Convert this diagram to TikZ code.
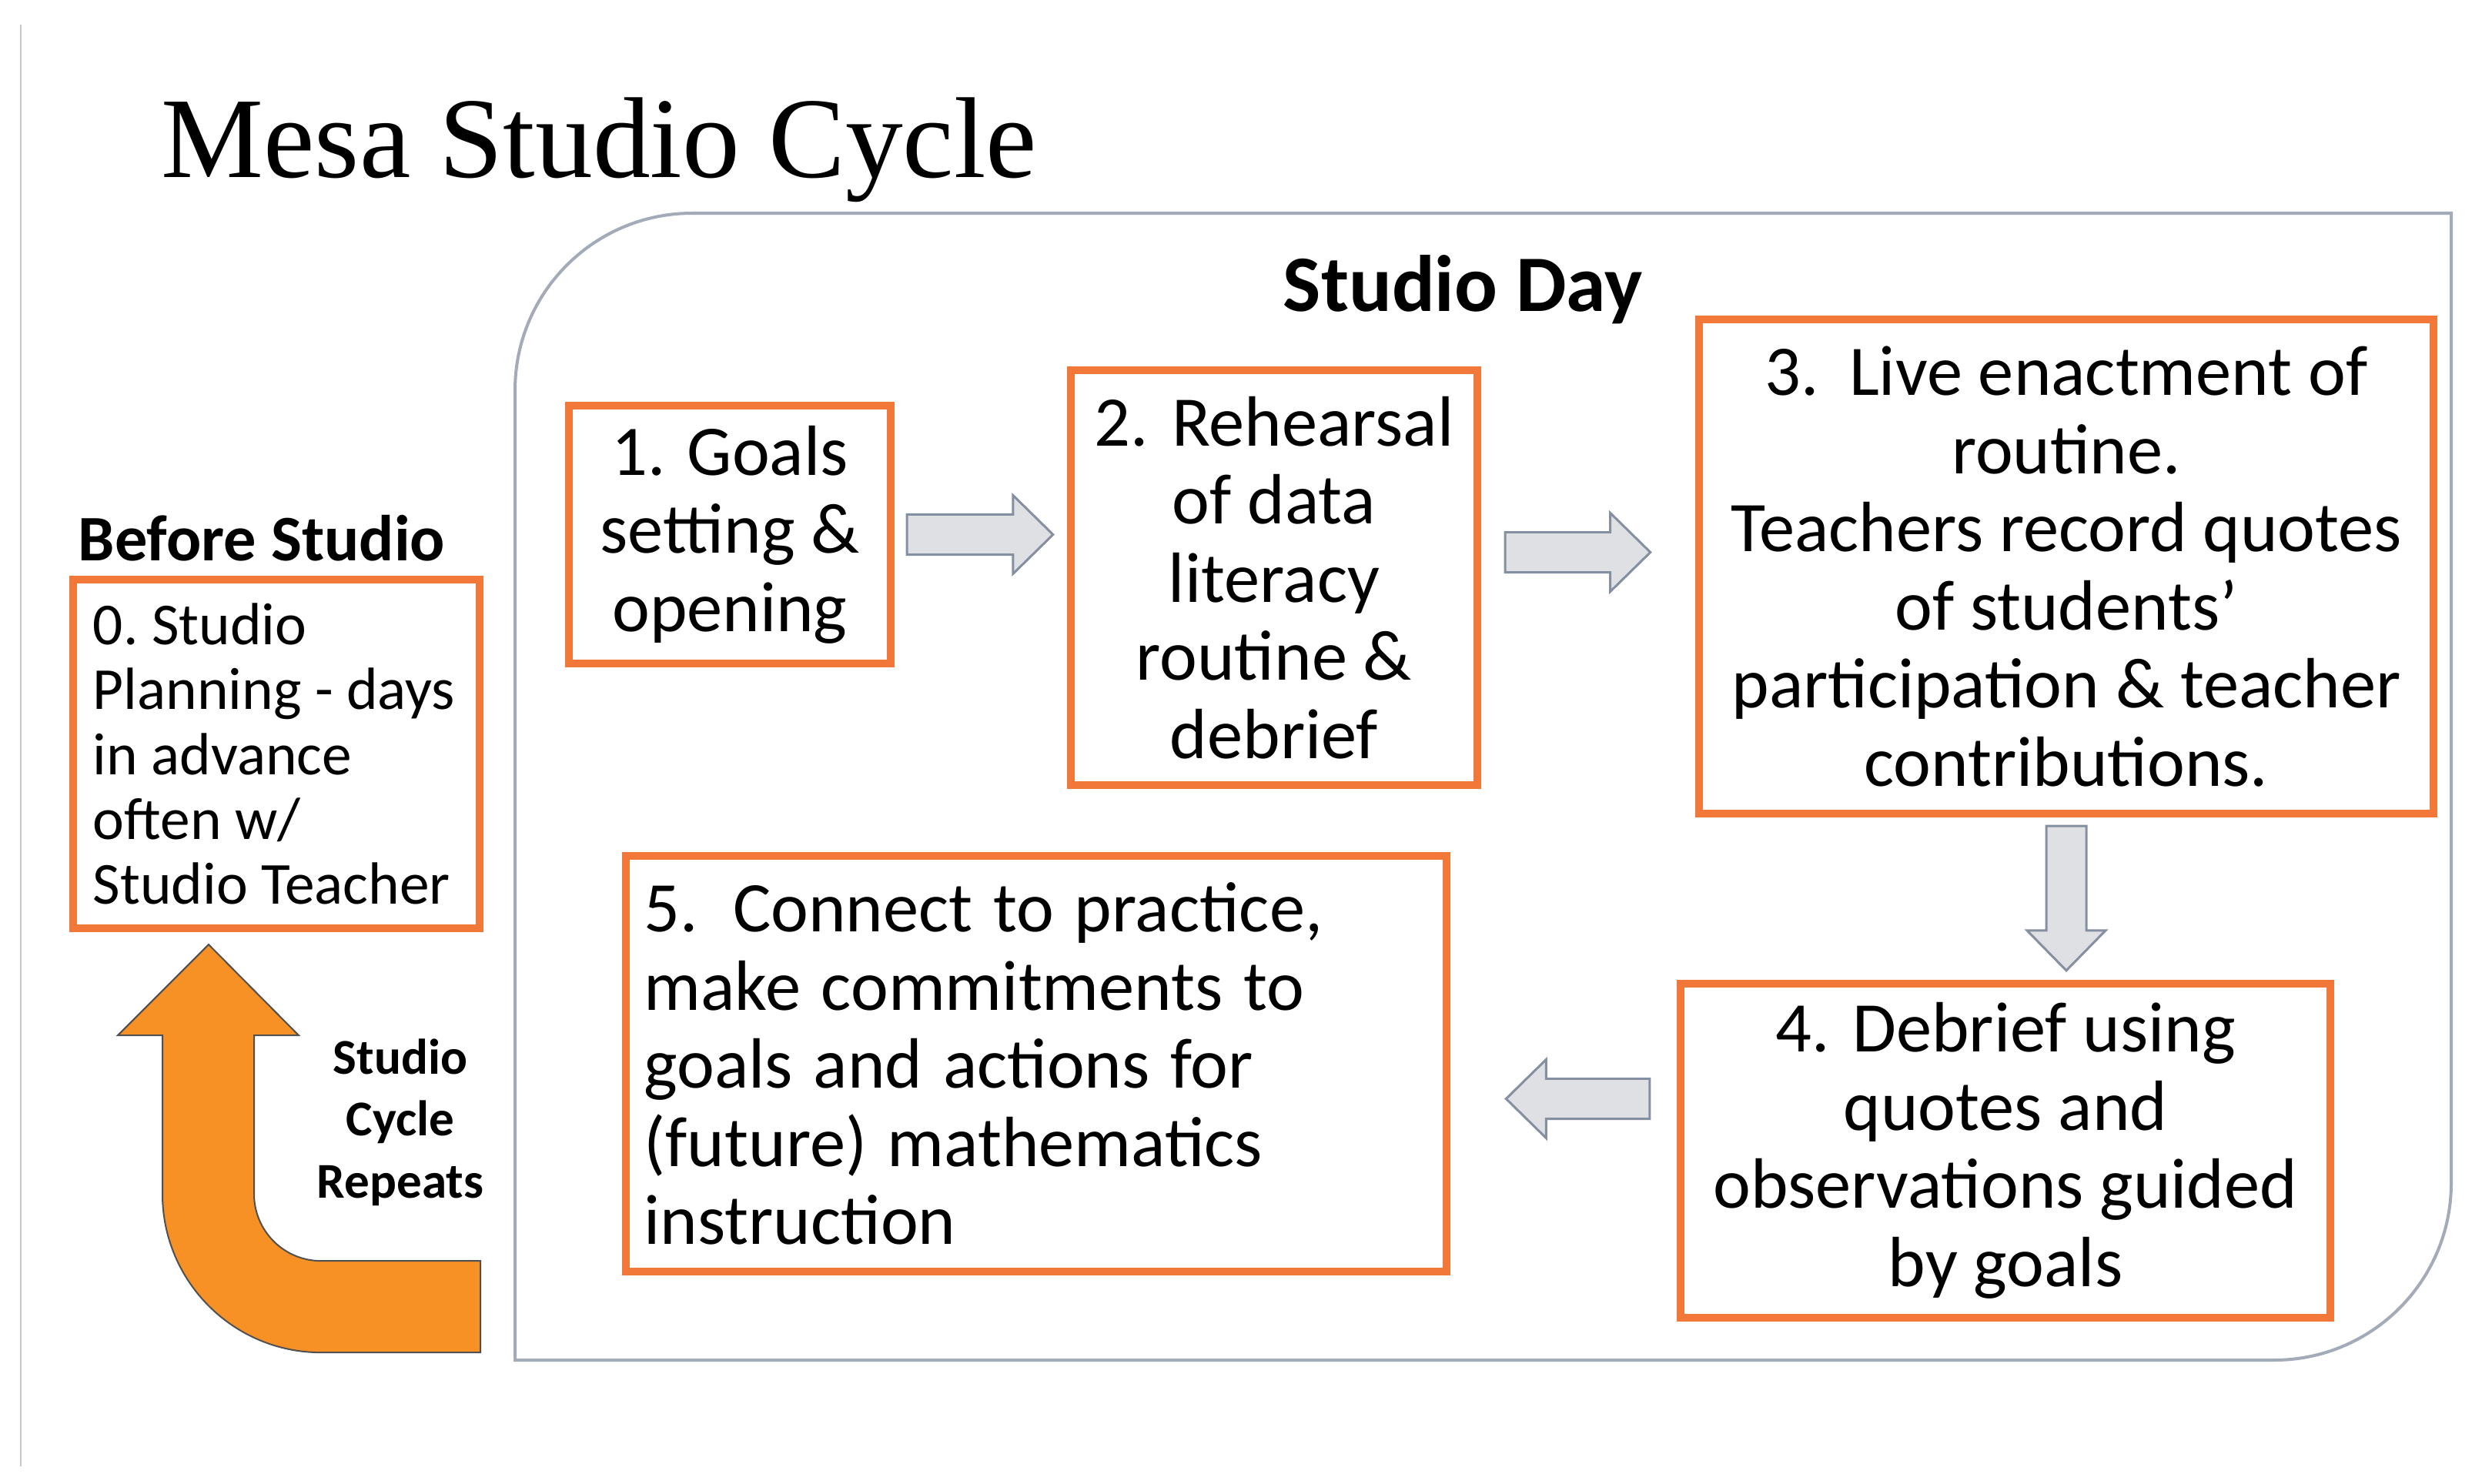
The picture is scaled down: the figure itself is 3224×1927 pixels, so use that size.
\documentclass[tikz,border=0pt]{standalone}
\usepackage{fontspec}
\setmainfont{Carlito}
\setsansfont{Carlito}
\newfontfamily\titlefont{Liberation Serif}
\usetikzlibrary{calc}
\definecolor{boxorange}{RGB}{241,120,57}
\definecolor{arrowfill}{RGB}{223,224,227}
\definecolor{arrowline}{RGB}{132,143,162}
\definecolor{framegray}{RGB}{163,171,184}
\definecolor{repeatorange}{RGB}{247,145,38}
\definecolor{repeatline}{RGB}{80,80,80}
\definecolor{leftgray}{RGB}{200,200,200}
\begin{document}
\frenchspacing
\begin{tikzpicture}[x=0.01cm,y=-0.01cm,
  box/.style={draw=boxorange, line width=2.85pt, fill=white, inner sep=0.1cm,
    outer sep=1.42pt, align=center, font=\fontsize{26.3pt}{28.9pt}\selectfont\frenchspacing},
  frame/.style={draw=framegray, line width=1.14pt},
  blockarrow/.style={draw=arrowline, fill=arrowfill, line width=0.85pt, line join=miter,
    to path={ -- ($(\tikztostart)!0.26cm!90:(\tikztotarget)$)
      -- ($($(\tikztotarget)!0.52cm!(\tikztostart)$)!0.26cm!90:(\tikztotarget)$)
      -- ($($(\tikztotarget)!0.52cm!(\tikztostart)$)!0.51cm!90:(\tikztotarget)$)
      -- (\tikztotarget)
      -- ($($(\tikztotarget)!0.52cm!(\tikztostart)$)!0.51cm!-90:(\tikztotarget)$)
      -- ($($(\tikztotarget)!0.52cm!(\tikztostart)$)!0.26cm!-90:(\tikztotarget)$)
      -- ($(\tikztostart)!0.26cm!-90:(\tikztotarget)$)
      -- cycle}},
  repeatarrow/.style={draw=repeatline, fill=repeatorange, line width=0.57pt, line join=miter},
  labelbold/.style={inner sep=0, font=\bfseries},
]
\useasboundingbox (0,0) rectangle (3224,1927);

% slide edge line
\draw[leftgray, line width=0.85pt] (27,32) -- (27,1905);

% Studio Day frame
\draw[frame] (669,1767) -- (669,507) arc[start angle=180, end angle=270, radius=230]
  -- (3184,277) -- (3184,1537) arc[start angle=0, end angle=90, radius=230] -- cycle;

% titles
\node[inner sep=0, anchor=base west, font=\titlefont\fontsize{42.5pt}{46pt}\selectfont]
  (title) at (209,230) {Mesa Studio Cycle};
\node[labelbold, anchor=base, font=\bfseries\fontsize{29.6pt}{32pt}\selectfont]
  (sday) at (1900,404) {Studio Day};
\node[labelbold, anchor=base west, font=\bfseries\fontsize{24pt}{26pt}\selectfont]
  (before) at (101,728) {Before Studio};

% boxes
\node[box, align=flush left, text width=4.76cm, inner xsep=0.26cm, minimum width=5.28cm,
  minimum height=4.53cm, font=\fontsize{22pt}{24pt}\selectfont\frenchspacing]
  (b0) at (359,979.5) {0. Studio\\Planning - days\\in advance\\often w/\\Studio Teacher};
\node[box, minimum width=4.18cm, minimum height=3.35cm]
  (b1) at (948,694.5) {1.\hspace{0.08em} Goals\\setting \&\\opening};
\node[box, minimum width=5.28cm, minimum height=5.39cm]
  (b2) at (1655,750.5) {2.\hspace{0.1em} Rehearsal\\of data\\literacy\\routine \&\\debrief};
\node[box, minimum width=9.54cm, minimum height=6.42cm]
  (b3) at (2684,736) {3.\hspace{0.2em} Live enactment of\\routine.\\Teachers record quotes\\of students’\\participation \& teacher\\contributions.};
\node[box, minimum width=8.44cm, minimum height=4.34cm]
  (b4) at (2605,1495) {4.\hspace{0.1em} Debrief using\\quotes and\\observations guided\\by goals};
\node[box, align=flush left, text width=10.18cm, inner xsep=0.24cm, minimum width=10.66cm,
  minimum height=5.40cm]
  (b5) at (1346,1382) {\spaceskip=0.29em\relax 5.\hspace{0.2em} Connect to practice,\\make commitments to\\goals and actions for\\(future) mathematics\\instruction};

% block arrows between steps
\coordinate (a12s) at ($(b1.east)+(16,0)$);
\coordinate (a12t) at ($(b2.west |- b1.east)+(-18,0)$);
\draw[blockarrow] (a12s) to (a12t);

\coordinate (a23s) at ($(b2.east)+(31,-33)$);
\coordinate (a23t) at ($(b3.west |- a23s)+(-58,0)$);
\draw[blockarrow] (a23s) to (a23t);

\coordinate (a34s) at ($(b3.south)+(0,11)$);
\coordinate (a34t) at ($(b3.south |- b4.north)+(0,-12)$);
\draw[blockarrow] (a34s) to (a34t);

\coordinate (a45s) at ($(b4.west)+(-35,-67.5)$);
\coordinate (a45t) at ($(b5.east |- a45s)+(72,0)$);
\draw[blockarrow] (a45s) to (a45t);

% cycle repeats arrow
\coordinate (rtip) at ($(b0.south)+(-88,16)$);
\begin{scope}[shift={(rtip)}]
\draw[repeatarrow] (0,0) -- (117,118) -- (59,118) -- (59,324)
  arc[start angle=180, end angle=90, radius=87]
  -- (353,411) -- (353,530) -- (146,530)
  arc[start angle=90, end angle=180, radius=206]
  -- (-60,118) -- (-118,118) -- cycle;
\end{scope}
\node[labelbold, align=center, font=\bfseries\fontsize{18.5pt}{22.9pt}\selectfont]
  (rep) at (520,1458) {Studio\\Cycle\\Repeats};
\end{tikzpicture}
\end{document}
